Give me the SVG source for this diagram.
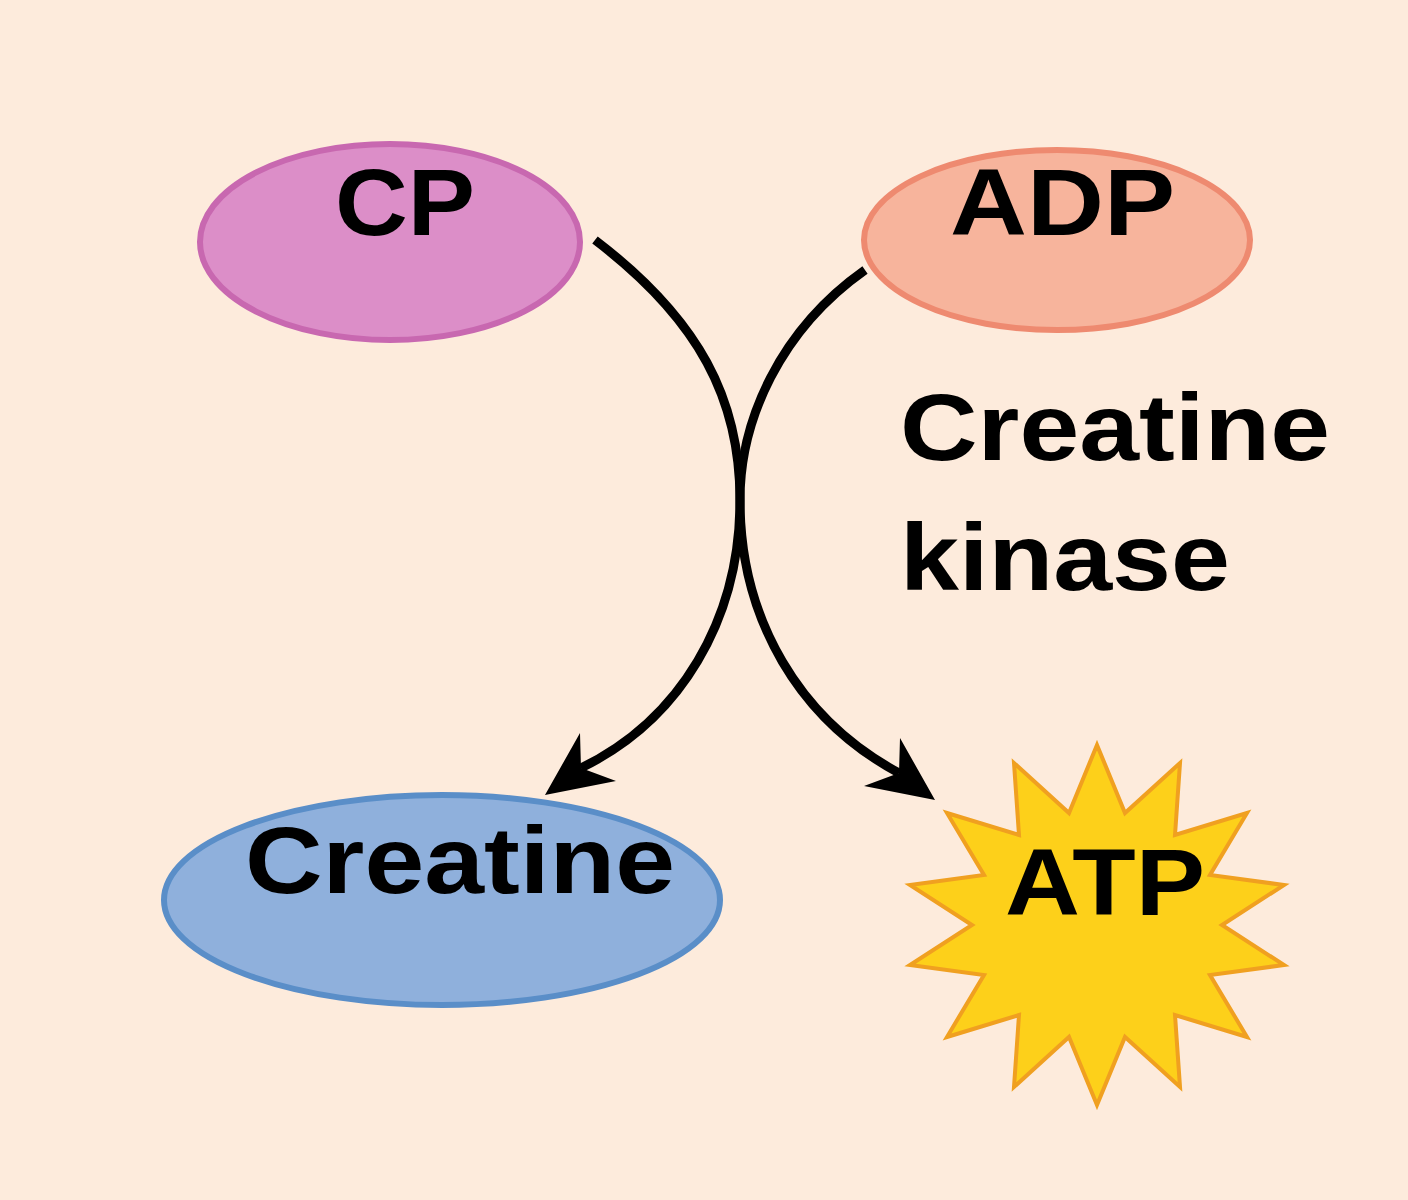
<svg xmlns="http://www.w3.org/2000/svg" width="1408" height="1200" viewBox="0 0 1408 1200">
<style>
text{font-family:"Liberation Sans",Arial,sans-serif;font-weight:bold;fill:#000;font-size:94px}
.c{fill:none;stroke:#000;stroke-width:9}
</style>
<rect width="1408" height="1200" fill="#fdebdc"/>
<g id="connectors">
<path class="c" d="M595,240 C700,320 740,400 740,500 C740,620 800,720 899,773"/>
<polygon points="935,800 864,786 899,773 900,738" fill="#000"/>
<path class="c" d="M865,270 C780,330 740,420 740,500 C740,620 680,720 581,768"/>
<polygon points="545,795 616,781 581,768 580,733" fill="#000"/>
</g>
<g id="cp"><ellipse cx="390" cy="242" rx="190" ry="98" fill="#dc8ec8" stroke="#c868b0" stroke-width="6"/><text x="335" y="235" textLength="140" lengthAdjust="spacingAndGlyphs">CP</text></g>
<g id="adp"><ellipse cx="1057" cy="240" rx="193" ry="90" fill="#f7b49c" stroke="#ee8a70" stroke-width="6"/><text x="950" y="235" textLength="225" lengthAdjust="spacingAndGlyphs">ADP</text></g>
<g id="enzyme"><text x="900" y="460" textLength="430" lengthAdjust="spacingAndGlyphs">Creatine</text><text x="900" y="590" textLength="330" lengthAdjust="spacingAndGlyphs">kinase</text></g>
<g id="creatine"><ellipse cx="442" cy="900" rx="278" ry="105" fill="#8fb0dc" stroke="#5a8ec8" stroke-width="6"/><text x="245" y="893" textLength="430" lengthAdjust="spacingAndGlyphs">Creatine</text></g>
<g id="atp"><polygon points="1097,745 1125,813 1180,763 1175,835 1247,813 1210,875 1284,885 1222,925 1284,965 1210,975 1247,1037 1175,1015 1180,1087 1125,1037 1097,1105 1069,1037 1014,1087 1019,1015 947,1037 984,975 910,965 972,925 910,885 984,875 947,813 1019,835 1014,763 1069,813" fill="#fdd01a" stroke="#f0a020" stroke-width="4"/><text x="1005" y="915" textLength="200" lengthAdjust="spacingAndGlyphs">ATP</text></g>
</svg>
